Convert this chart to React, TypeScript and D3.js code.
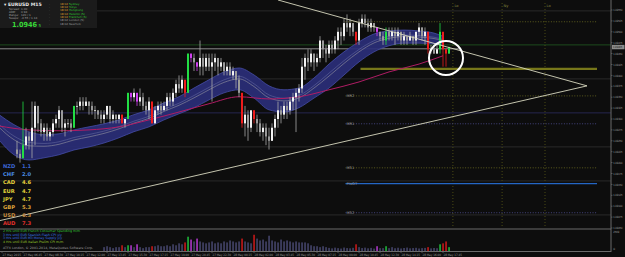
import React from 'react';
import * as d3 from 'd3';

const W = 625;
const H = 257;

// ---- candles (M15 EURUSD), bar index 0..144
const firstOpen = 1.0923;
const closes = [1.0922,1.0921,1.0924,1.0926,1.0925,1.0928,1.0933,1.0929,1.0927,1.0928,1.0926,1.0927,1.0929,1.0930,1.0932,1.0928,1.0929,1.0929,1.0928,1.0933,
1.0933,1.0934,1.0933,1.0934,1.0933,1.0932,1.0932,1.0931,1.0930,1.0931,1.0933,1.0930,1.0931,1.0930,1.0931,1.0929,1.0930,1.0936,1.0935,1.0936,
1.0934,1.0935,1.0933,1.0932,1.0934,1.0929,1.0932,1.0933,1.0932,1.0933,1.0935,1.0934,1.0936,1.0938,1.0937,1.0939,1.0936,1.0945,1.0944,1.0943,
1.0942,1.0944,1.0942,1.0944,1.0942,1.0943,1.0944,1.0942,1.0943,1.0941,1.0942,1.0940,1.0941,1.0939,1.0936,1.0929,1.0931,1.0928,1.0932,1.0930,
1.0929,1.0927,1.0928,1.0926,1.0925,1.0928,1.0930,1.0932,1.0931,1.0933,1.0932,1.0934,1.0935,1.0936,1.0937,1.0942,1.0944,1.0943,1.0945,1.0943,
1.0944,1.0948,1.0946,1.0945,1.0947,1.0946,1.0948,1.0950,1.0949,1.0952,1.0951,1.0952,1.0950,1.0948,1.0952,1.0953,1.0952,1.0951,1.0952,1.0951,
1.0950,1.0949,1.0948,1.0950,1.0949,1.0950,1.0949,1.0950,1.0948,1.0949,1.0948,1.0949,1.0948,1.0950,1.0951,1.0949,1.0950,1.0946,1.0946,1.0945,
1.0946,1.0950,1.0946,1.0945,1.09465];
const highs = [1.0925,1.0923,1.0934,1.0928,1.0927,1.0934,1.0934,1.0933,1.0930,1.0929,1.0929,1.0928,1.0930,1.0931,1.0933,1.0932,1.0930,1.0930,1.0930,1.0933,
1.0934,1.0935,1.0935,1.0935,1.0934,1.0934,1.0933,1.0932,1.0932,1.0932,1.0933,1.0933,1.0932,1.0931,1.0931,1.0931,1.0930,1.0936,1.0936,1.0937,
1.0936,1.0937,1.0936,1.0934,1.0935,1.0934,1.0933,1.0934,1.0934,1.0934,1.0936,1.0936,1.0937,1.0939,1.0940,1.0940,1.0939,1.0945,1.0945,1.0945,
1.0943,1.0948,1.0945,1.0945,1.0945,1.0945,1.0945,1.0944,1.0944,1.0943,1.0943,1.0943,1.0942,1.0941,1.0940,1.0936,1.0933,1.0932,1.0932,1.0932,
1.0931,1.0930,1.0929,1.0929,1.0928,1.0929,1.0931,1.0934,1.0933,1.0934,1.0934,1.0935,1.0936,1.0937,1.0938,1.0944,1.0945,1.0946,1.0946,1.0945,
1.0945,1.0949,1.0948,1.0947,1.0948,1.0948,1.0949,1.0951,1.0951,1.0953,1.0954,1.0953,1.0952,1.0950,1.0953,1.0954,1.0954,1.0953,1.0953,1.0952,
1.0951,1.0950,1.0950,1.0951,1.0951,1.0951,1.0951,1.0951,1.0950,1.0950,1.0949,1.0950,1.0949,1.0950,1.0952,1.0951,1.0951,1.0950,1.0947,1.0947,
1.0947,1.0952,1.0950,1.0946,1.09466];
const lows = [1.0921,1.0920,1.0921,1.0923,1.0923,1.0921,1.0924,1.0927,1.0926,1.0925,1.0925,1.0925,1.0926,1.0928,1.0928,1.0927,1.0926,1.0928,1.0927,1.0928,
1.0931,1.0932,1.0932,1.0933,1.0931,1.0931,1.0930,1.0930,1.0929,1.0929,1.0930,1.0929,1.0929,1.0929,1.0929,1.0929,1.0928,1.0930,1.0934,1.0934,
1.0933,1.0933,1.0932,1.0931,1.0930,1.0929,1.0929,1.0931,1.0931,1.0932,1.0932,1.0933,1.0933,1.0935,1.0936,1.0936,1.0935,1.0936,1.0943,1.0941,
1.0941,1.0940,1.0940,1.0941,1.0941,1.0934,1.0941,1.0940,1.0941,1.0940,1.0940,1.0940,1.0939,1.0937,1.0935,1.0928,1.0926,1.0925,1.0927,1.0929,
1.0927,1.0926,1.0925,1.0924,1.0923,1.0925,1.0926,1.0928,1.0929,1.0930,1.0930,1.0931,1.0932,1.0927,1.0934,1.0936,1.0939,1.0941,1.0942,1.0941,
1.0942,1.0943,1.0944,1.0943,1.0944,1.0945,1.0945,1.0946,1.0947,1.0948,1.0950,1.0949,1.0949,1.0947,1.0947,1.0951,1.0951,1.0950,1.0950,1.0950,
1.0949,1.0948,1.0947,1.0947,1.0948,1.0948,1.0947,1.0948,1.0947,1.0947,1.0947,1.0948,1.0947,1.0947,1.0949,1.0948,1.0947,1.0945,1.0945,1.0945,
1.0945,1.0945,1.0942,1.0942,1.0945];
// indicator-highlighted bars: bar index -> colour class
const highlightBars = [2,19,35,37,38,40,45,56,57,58,60,75,79,113,120,123,137,141,142,143,144];
const highlightKinds = ['g','g','r','g','m','m','r','r','g','m','m','r','r','r','m','g','r','g','r','r','g'];

// ---- tick volume (bars 29..144)
const volumeStart = 29;
const volumes = [470,585,470,350,470,470,700,470,700,700,470,820,470,350,470,470,585,585,700,585,
585,700,585,820,700,940,820,1050,1750,1400,1170,1520,1170,1050,940,1050,1170,940,1050,940,
1170,1050,1290,1170,1050,1170,1520,1170,1050,940,1990,1520,1290,1400,1170,1870,1290,1170,1050,1400,
1170,1290,1170,1050,1170,1050,1050,1050,940,700,585,585,470,585,470,380,320,410,350,300,
420,360,330,390,820,470,360,410,330,380,300,585,350,350,585,350,470,340,400,310,
370,420,330,360,390,310,350,380,470,320,370,340,820,940,1170,470];

// ---- MA band (read at sample bars)
const bandBars = [-6,-1,4,9,14,19,24,29,34,39,44,49,54,59,64,69,74,79,84,89,94,99,104,109,114,119,124,129,134,139,142];
const bandUpper = [1.09310,1.09287,1.09271,1.09264,1.09266,1.09275,1.09282,1.09289,1.09298,1.09310,1.09321,1.09337,1.09351,1.09371,1.09390,1.09408,1.09417,1.09401,1.09376,1.09367,1.09371,1.09394,1.09426,1.09454,1.09477,1.09495,1.09502,1.09504,1.09502,1.09497,1.09490];
const bandLower = [1.09252,1.09218,1.09206,1.09211,1.09218,1.09229,1.09236,1.09245,1.09257,1.09271,1.09282,1.09298,1.09312,1.09326,1.09344,1.09360,1.09367,1.09348,1.09321,1.09316,1.09326,1.09348,1.09371,1.09401,1.09431,1.09454,1.09468,1.09474,1.09474,1.09472,1.09470];
const maBars = [-6,4,14,24,34,44,54,64,74,84,94,104,114,124,134,142];
const maValues = [1.09284,1.09275,1.09273,1.09275,1.09282,1.09298,1.09316,1.09335,1.09351,1.09346,1.09351,1.09367,1.09385,1.09408,1.09426,1.09445];

// ---- price axis
const priceTicks = ['1.09550','1.09525','1.09500','1.09475','1.09450','1.09425','1.09400','1.09375','1.09350','1.09325','1.09300','1.09275','1.09250','1.09225','1.09200','1.09175','1.09150','1.09125','1.09100','1.09075','1.09050'];
const currentPrice = 1.09465;
const gridPrices = [1.09548,1.09392,1.09314,1.09236,1.09158,1.09080];

// ---- levels
const levelNames = ['', '', 'MR2', 'MR1', 'MS1', 'PIVOT', 'MS2'];
const levelPrices = [1.09523, 1.09415, 1.09353, 1.09289, 1.09188, 1.09152, 1.09085];
const levelKinds = ['dotOlive', 'olive', 'dotOlive', 'dotPurple', 'dotOlive', 'blue', 'dotPurple'];
const sessionBars = [145.3, 161.7, 176];
const sessionNames = ['Lo', 'Ny', 'Lo'];

// ---- triangle trendlines [bar, price]
const upperLine = [[87, 1.09573], [190, 1.09376]];
const lowerLine = [[-5.7, 1.09067], [190, 1.09376]];
const circleAt = [143, 1.09440];

// ---- time axis
const timeBars = [-5, 2, 9, 16, 23, 30, 37, 44, 51, 58, 65, 72, 79, 86, 93, 100, 107, 114, 121, 128, 135, 142];
const timeLabels = ['27 May 2015','27 May 06:45','27 May 08:30','27 May 10:15','27 May 12:00','27 May 13:45','27 May 15:30','27 May 17:15','27 May 19:00','27 May 20:45','27 May 22:30','28 May 00:15','28 May 02:00','28 May 03:45','28 May 05:30','28 May 07:15','28 May 09:00','28 May 10:45','28 May 12:30','28 May 14:15','28 May 16:00','28 May 17:45'];

// ---- currency strength
const currencies = ['NZD','CHF','CAD','EUR','JPY','GBP','USD','AUD'];
const strengths = ['1.1','2.0','4.6','4.7','4.7','5.3','6.3','7.3'];
const currencyColors = ['#3b64d0','#4a8ee6','#e6d23c','#e0d23a','#d6c836','#dba23a','#c98e3e','#e0302c'];

// ---- news
const newsLines = ['2 Hrs until EUR French Consumer Spending m/m','3 Hrs until EUR Spanish Flash CPI y/y','3 Hrs until EUR M3 Money Supply y/y','4 Hrs until EUR Italian Prelim CPI m/m'];
const newsColors = ['#34c234','#3a78e8','#3a78e8','#9ccc2c'];

// ---- sessions panel
const sessionTimes = ['18:02','18:02','18:02','18:02','18:02','18:02','18:02'];
const sessionCities = ['Sydney','Tokyo','Hongkong','Helsinki (S)','Frankfurt (S)','London (S)','NewYork'];
const infoLabels = ['Spread:','ADR:','Range:','Swaps:'];
const infoValues = ['1.00','0.94','120 / 1','-4.55 / 1.14'];

const colorOf: Record<string, string> = { g: '#22dd44', r: '#ee1c1c', m: '#d040f0' };
const FONT = 'DejaVu Sans, Liberation Sans, sans-serif';

export default function App() {
  const x = d3.scaleLinear().domain([0, 144]).range([17, 449]);
  const y = d3.scaleLinear().domain([1.0955, 1.0905]).range([10, 228]);
  const yv = d3.scaleLinear().domain([0, 2569]).range([251, 230]);

  const hl = new Map<number, string>();
  highlightBars.forEach((b, k) => hl.set(b, highlightKinds[k]));

  const opens = closes.map((c, i) => (i === 0 ? firstOpen : closes[i - 1]));

  const band = bandBars.map((b, k) => ({ b, u: bandUpper[k], l: bandLower[k] }));
  const bandArea = d3.area<any>().x((d) => x(d.b)).y0((d) => y(d.l)).y1((d) => y(d.u)).curve(d3.curveMonotoneX);
  const bandUp = d3.line<any>().x((d) => x(d.b)).y((d) => y(d.u)).curve(d3.curveMonotoneX);
  const bandLo = d3.line<any>().x((d) => x(d.b)).y((d) => y(d.l)).curve(d3.curveMonotoneX);
  const bandMid = d3.line<any>().x((d) => x(d.b)).y((d) => y((d.u + d.l) / 2)).curve(d3.curveMonotoneX);
  const bandMid2 = d3.line<any>().x((d) => x(d.b)).y((d) => y(d.u * 0.62 + d.l * 0.38)).curve(d3.curveMonotoneX);
  const maLine = d3.line<number>().x((d, k) => x(maBars[k])).y((d) => y(d)).curve(d3.curveMonotoneX);

  const mainRight = 611;
  const levelStart = x(109.5);
  const levelEnd = 597;

  return (
    <div style={{ position: 'fixed', left: 0, top: 0, width: W, height: H, background: '#0d0d0d' }}>
      <svg width={W} height={H} style={{ display: 'block' }} fontFamily={FONT}>
        <defs>
          <clipPath id="mainClip"><rect x={0} y={0} width={mainRight} height={228} /></clipPath>
          <clipPath id="volClip"><rect x={0} y={229} width={mainRight} height={22} /></clipPath>
        </defs>
        <rect x={0} y={0} width={W} height={H} fill="#0d0d0d" />

        <g clipPath="url(#mainClip)">
          {gridPrices.map((p, k) => (
            <line key={k} x1={0} x2={mainRight} y1={y(p)} y2={y(p)} stroke={k === 2 ? '#262650' : '#2a2a2a'} strokeWidth={1} />
          ))}
          <line x1={0} x2={mainRight} y1={y(1.0947)} y2={y(1.0947)} stroke="#1d4a1d" strokeWidth={1} />
          {sessionBars.map((b, k) => (
            <g key={k}>
              <line x1={x(b)} x2={x(b)} y1={3} y2={228} stroke="#4a4a14" strokeDasharray="1,2" />
              <text x={x(b) + 1.5} y={6.5} fontSize={3.6} fill="#8a8a40">{sessionNames[k]}</text>
            </g>
          ))}
          {levelPrices.map((p, k) => {
            const kind = levelKinds[k];
            const stroke = kind === 'olive' ? '#77771a' : kind === 'blue' ? '#2466c4' : kind === 'dotPurple' ? '#44447e' : '#5c5c1e';
            const sw = kind === 'olive' ? 2.4 : kind === 'blue' ? 1.3 : 1;
            const dash = kind.startsWith('dot') ? '1,1.6' : undefined;
            const x1 = kind === 'olive' ? x(114.5) : levelStart;
            return (
              <g key={k}>
                <line x1={x1} x2={levelEnd} y1={y(p)} y2={y(p)} stroke={stroke} strokeWidth={sw} strokeDasharray={dash} />
                {levelNames[k] && (
                  <text x={levelStart + 1} y={y(p) + 1.5} fontSize={3.6} fill="#9a9a9a">{levelNames[k]}</text>
                )}
              </g>
            );
          })}
          <line x1={0} x2={x(148)} y1={y(1.09461)} y2={y(1.09461)} stroke="#8a8a8a" strokeWidth={1} />

          <path d={bandArea(band) || ''} fill="#2a2e78" fillOpacity={0.92} />
          <path d={bandUp(band) || ''} fill="none" stroke="#454ca6" strokeWidth={0.8} />
          <path d={bandLo(band) || ''} fill="none" stroke="#454ca6" strokeWidth={0.8} />
          <path d={bandMid2(band) || ''} fill="none" stroke="#62669e" strokeWidth={0.6} />
          <path d={bandMid(band) || ''} fill="none" stroke="#85859a" strokeWidth={0.7} />
          <path d={maLine(maValues) || ''} fill="none" stroke="#b01c64" strokeWidth={1} />

          {closes.map((c, i) => {
            const o = opens[i];
            const kind = hl.get(i);
            const bull = c >= o;
            const col = kind ? colorOf[kind] : bull ? '#f2f2f2' : '#9a9a9a';
            const top = y(Math.max(o, c));
            const bot = y(Math.min(o, c));
            return (
              <g key={i}>
                <line x1={x(i)} x2={x(i)} y1={y(highs[i])} y2={y(lows[i])} stroke={kind ? col : '#a8a8a8'} strokeWidth={0.8} />
                <rect x={x(i) - 1} y={top} width={2} height={Math.max(0.8, bot - top)} fill={col} />
              </g>
            );
          })}

          <line x1={x(upperLine[0][0])} y1={y(upperLine[0][1])} x2={x(upperLine[1][0])} y2={y(upperLine[1][1])} stroke="#d8d8c0" strokeWidth={0.9} />
          <line x1={x(lowerLine[0][0])} y1={y(lowerLine[0][1])} x2={x(lowerLine[1][0])} y2={y(lowerLine[1][1])} stroke="#d8d8c0" strokeWidth={0.9} />
          <circle cx={x(circleAt[0])} cy={y(circleAt[1])} r={17} fill="none" stroke="#ffffff" strokeWidth={2} />
        </g>

        {/* info panel */}
        <rect x={0} y={0} width={97} height={28} fill="#1b1b1b" />
        <text x={4} y={6} fontSize={4.6} fill="#e8e8e8" fontWeight="bold">▾ EURUSD  M15</text>
        {infoLabels.map((t, k) => (
          <g key={k}>
            <text x={9} y={10 + k * 3.1} fontSize={2.8} fill="#a0a0a0">{t}</text>
            <text x={21} y={10 + k * 3.1} fontSize={2.8} fill="#a0a0a0">{infoValues[k]}</text>
          </g>
        ))}
        <text x={12} y={26.5} fontSize={7} fill="#38d838" fontWeight="bold" textLength={25} lengthAdjust="spacingAndGlyphs">1.0946</text>
        <text x={38.5} y={26.5} fontSize={4} fill="#38d838">5</text>
        {sessionTimes.map((t, k) => (
          <g key={k}>
            <text x={49} y={4.5 + k * 3.35} fontSize={2.6} fill="#777">-</text>
            <text x={60} y={4.5 + k * 3.35} fontSize={2.8} fill={k < 5 ? '#d89a2a' : '#9a9a9a'}>{t}</text>
            <text x={69} y={4.5 + k * 3.35} fontSize={2.8} fill={k < 5 ? '#2ec82e' : '#9a9a9a'}>{sessionCities[k]}</text>
          </g>
        ))}

        {currencies.map((c, k) => (
          <g key={c}>
            <text x={3} y={168 + k * 8.2} fontSize={5.2} fontWeight="bold" fill={currencyColors[k]}>{c}</text>
            <text x={22} y={168 + k * 8.2} fontSize={5.2} fontWeight="bold" fill={currencyColors[k]}>{strengths[k]}</text>
          </g>
        ))}

        {/* volume panel */}
        <line x1={0} x2={mainRight} y1={229} y2={229} stroke="#6a6a6a" strokeWidth={1} />
        <g clipPath="url(#volClip)">
          {volumes.map((v, k) => {
            const i = volumeStart + k;
            const kind = hl.get(i);
            return (
              <rect key={k} x={x(i) - 0.6} y={yv(v)} width={1.3} height={yv(0) - yv(v)} fill={kind ? colorOf[kind] : '#50507e'} />
            );
          })}
        </g>
        {newsLines.map((t, k) => (
          <text key={k} x={3} y={232 + k * 3.7} fontSize={3.2} fill={newsColors[k]}>{t}</text>
        ))}
        <text x={3} y={248.5} fontSize={3.2} fill="#9a9a9a">ATFX London, © 2001-2014, MetaQuotes Software Corp.</text>
        <line x1={0} x2={mainRight} y1={251.5} y2={251.5} stroke="#6a6a6a" strokeWidth={1} />

        {timeBars.map((b, k) => (
          <g key={k}>
            <line x1={x(b)} x2={x(b)} y1={251.5} y2={253} stroke="#777" strokeWidth={0.6} />
            <text x={x(b) + 0.5} y={256} fontSize={3.1} fill="#9a9a9a" textLength={18.5} lengthAdjust="spacingAndGlyphs">{timeLabels[k]}</text>
          </g>
        ))}

        {/* price axis */}
        <line x1={mainRight} x2={mainRight} y1={0} y2={252} stroke="#6a6a6a" strokeWidth={1} />
        {priceTicks.map((t) => (
          <g key={t}>
            <line x1={mainRight} x2={mainRight + 1.5} y1={y(+t)} y2={y(+t)} stroke="#777" strokeWidth={0.6} />
            <text x={mainRight + 2.2} y={y(+t) + 1.1} fontSize={2.9} fill="#a0a0a0" textLength={9.2} lengthAdjust="spacingAndGlyphs">{t}</text>
          </g>
        ))}
        <rect x={mainRight + 1} y={y(currentPrice) - 2.2} width={12.5} height={4.4} fill="#8c8c8c" />
        <text x={mainRight + 2} y={y(currentPrice) + 1.1} fontSize={2.9} fill="#111" textLength={9.2} lengthAdjust="spacingAndGlyphs">{currentPrice.toFixed(5)}</text>
        <text x={mainRight + 2.2} y={233} fontSize={2.9} fill="#a0a0a0" textLength={6} lengthAdjust="spacingAndGlyphs">2569</text>
        <text x={mainRight + 2.2} y={250} fontSize={2.9} fill="#a0a0a0">0</text>
      </svg>
    </div>
  );
}
